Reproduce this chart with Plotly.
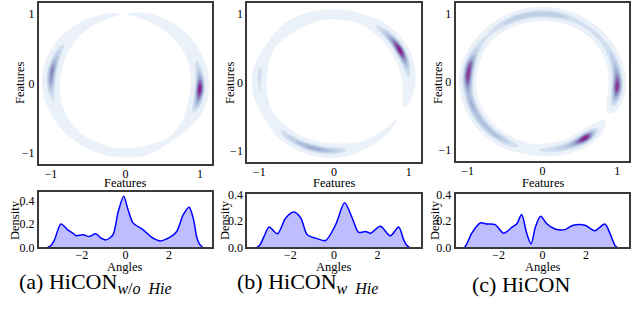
import numpy as np
import plotly.graph_objects as go

# ---- data: angle (rad) -> density of angles ----
a_angles = [-3.57, -3.42, -3.26, -2.96, -2.65, -2.42, -2.26, -1.95, -1.65, -1.37, -1.11, -0.88, -0.57,
            -0.34, -0.08, 0.12, 0.35, 0.82, 1.20, 1.59, 2.05, 2.36, 2.66, 2.93, 3.13, 3.28, 3.40, 3.54]
a_density = [0.0, 0.015, 0.064, 0.200, 0.150, 0.122, 0.100, 0.108, 0.093, 0.116, 0.078, 0.064, 0.108,
             0.300, 0.440, 0.325, 0.210, 0.150, 0.087, 0.055, 0.087, 0.136, 0.280, 0.345, 0.240, 0.087, 0.030, 0.0]

b_angles = [-3.53, -3.40, -3.20, -2.97, -2.59, -2.21, -1.83, -1.52, -1.22, -0.84, -0.38, 0.08, 0.49,
            0.84, 1.14, 1.45, 1.68, 2.13, 2.59, 2.97, 3.20, 3.32, 3.46]
b_density = [0.0, 0.015, 0.083, 0.155, 0.103, 0.224, 0.270, 0.224, 0.096, 0.070, 0.052, 0.173, 0.340,
             0.224, 0.114, 0.121, 0.108, 0.160, 0.088, 0.155, 0.057, 0.020, 0.0]

c_angles = [-3.56, -3.45, -3.23, -2.85, -2.54, -2.16, -1.78, -1.40, -1.17, -0.95, -0.72, -0.52, -0.31,
            -0.08, 0.20, 0.58, 1.03, 1.41, 1.95, 2.40, 2.86, 3.09, 3.24, 3.32, 3.42]
c_density = [0.0, 0.030, 0.108, 0.186, 0.178, 0.173, 0.108, 0.152, 0.180, 0.250, 0.108, 0.026, 0.160,
             0.237, 0.180, 0.140, 0.135, 0.168, 0.168, 0.127, 0.178, 0.108, 0.046, 0.015, 0.0]

cap_labels = ["(a) HiCON", "(b) HiCON", "(c) HiCON"]
cap_subs = ["<i>w</i>/<i>o</i>&nbsp;&nbsp;<i>Hie</i>", "<i>w</i>&nbsp;&nbsp;<i>Hie</i>", ""]

top_ticks = [-1, 0, 1]
bottom_xticks = [-2, 0, 2]
bottom_yticks = [0.0, 0.2, 0.4]

# ---- rendering helpers ----
FONT = "Liberation Serif"
W, H = 641, 321
THRESH = 0.059
POW = 3.7
NLEV = 10
BUPU = ["#e2ebf4", "#cfdcee", "#bccbe4", "#a8b9da", "#97a3cd", "#8c82bd", "#8b5faa",
        "#87419c", "#83258c", "#7d0f78"]


def ring_surface(angles, dens, width):
    ang = np.asarray(angles, float)
    d = np.asarray(dens, float)
    th = np.linspace(-np.pi, np.pi, 721)
    g = (np.interp(th, ang, d, left=0, right=0)
         + np.interp(th + 2 * np.pi, ang, d, left=0, right=0)
         + np.interp(th - 2 * np.pi, ang, d, left=0, right=0))
    step = th[1] - th[0]
    k = np.arange(-40, 41) * step
    ker = np.exp(-k ** 2 / (2 * 0.05 ** 2))
    ker /= ker.sum()
    gp = np.concatenate([g[-41:-1], g, g[1:41]])
    g = np.convolve(gp, ker, mode="same")[40:-40]
    grid = np.linspace(-1.17, 1.17, 281)
    X, Y = np.meshgrid(grid, grid)
    R = np.hypot(X, Y)
    T = np.arctan2(Y, X)
    gz = np.interp(T, th, g)
    z = gz * np.exp(-(R - 1.0) ** 2 / (2 * width ** 2))
    gmax = g.max()
    zn = (z / gmax) ** POW
    thr = (THRESH / gmax) ** POW
    return grid, zn, thr


def colorscale():
    cs = [[0.0, "rgba(255,255,255,0)"], [0.5 / (NLEV + 1), "rgba(255,255,255,0)"]]
    for i, c in enumerate(BUPU):
        cs.append([(i + 1) / NLEV if i + 1 < NLEV else 1.0, c])
    return cs


fig = go.Figure()

top_dom_x = [[39 / W, 212 / W], [247.3 / W, 420.7 / W], [455.7 / W, 629.3 / W]]
top_dom_y = [[1 - 164 / H, 1 - 3 / H], [1 - 161.7 / H, 1 - 3.3 / H], [1 - 161 / H, 1 - 3 / H]]
bot_dom_y = [[1 - 247.3 / H, 1 - 192.3 / H], [1 - 247.3 / H, 1 - 194.3 / H], [1 - 247.3 / H, 1 - 194.3 / H]]
bot_yrange = [[0, 0.473], [0, 0.405], [0, 0.405]]
widths = [0.064, 0.064, 0.072]

series = [(a_angles, a_density), (b_angles, b_density), (c_angles, c_density)]

for i, (ang, den) in enumerate(series):
    grid, zn, thr = ring_surface(ang, den, widths[i])
    size = (1.0 - thr) / NLEV
    xa = "x" if i == 0 else f"x{i + 1}"
    ya = "y" if i == 0 else f"y{i + 1}"
    fig.add_trace(go.Contour(
        x=grid, y=grid, z=zn, xaxis=xa, yaxis=ya,
        contours=dict(coloring="fill", start=thr, end=1.0, size=size, showlines=False),
        line=dict(width=0), colorscale=colorscale(), showscale=False, hoverinfo="skip"))
    fig.add_trace(go.Scatter(
        x=ang, y=den, xaxis=f"x{i + 4}", yaxis=f"y{i + 4}", mode="lines",
        line=dict(color="#0000ff", width=1.5, shape="spline", smoothing=0.8),
        fill="tozeroy", fillcolor="rgba(0,0,255,0.26)", showlegend=False, hoverinfo="skip"))

axis_common = dict(showgrid=False, zeroline=False, showline=True, mirror=True, automargin=False,
                   linecolor="#3a3a3a", linewidth=2, ticks="",
                   tickfont=dict(family=FONT, size=12, color="black"))
title_font = dict(family=FONT, size=12.5, color="black")

layout = dict(width=W, height=H, margin=dict(l=0, r=0, t=0, b=0, autoexpand=False),
              paper_bgcolor="white", plot_bgcolor="white", showlegend=False)

for i in range(3):
    xk = "xaxis" if i == 0 else f"xaxis{i + 1}"
    yk = "yaxis" if i == 0 else f"yaxis{i + 1}"
    ya = "y" if i == 0 else f"y{i + 1}"
    xa = "x" if i == 0 else f"x{i + 1}"
    layout[xk] = dict(axis_common, domain=top_dom_x[i], anchor=ya, range=[-1.16, 1.16],
                      tickvals=top_ticks, ticklabelstandoff=-2)
    layout[yk] = dict(axis_common, domain=top_dom_y[i], anchor=xa, range=[-1.16, 1.16],
                      tickvals=top_ticks)
    layout[f"xaxis{i + 4}"] = dict(axis_common, domain=top_dom_x[i], anchor=f"y{i + 4}",
                                   range=[-3.97, 3.98], tickvals=bottom_xticks, ticklabelstandoff=-5)
    layout[f"yaxis{i + 4}"] = dict(axis_common, domain=bot_dom_y[i], anchor=f"x{i + 4}",
                                   range=bot_yrange[i], tickvals=bottom_yticks, tickformat=".1f")

fig.update_layout(**layout)

# axis titles
top_cx = [125, 334, 542.7]
ytitle_x = [20, 230, 438]
dens_x = [15, 225, 435]
for i in range(3):
    fig.add_annotation(text="Features", x=top_cx[i] / W, y=1 - 183 / H, xref="paper", yref="paper",
                       xanchor="center", yanchor="middle", showarrow=False, font=title_font)
    fig.add_annotation(text="Features", x=ytitle_x[i] / W, y=1 - 83 / H, xref="paper", yref="paper",
                       xanchor="center", yanchor="middle", showarrow=False, textangle=-90,
                       font=title_font)
    fig.add_annotation(text="Angles", x=top_cx[i] / W, y=1 - 267 / H, xref="paper", yref="paper",
                       xanchor="center", yanchor="middle", showarrow=False, font=title_font)
    fig.add_annotation(text="Density", x=dens_x[i] / W, y=1 - 220 / H, xref="paper", yref="paper",
                       xanchor="center", yanchor="middle", showarrow=False, textangle=-90,
                       font=title_font)

cap_x = [17 / W, 235 / W, 470 / W]
for i in range(3):
    txt = cap_labels[i]
    if cap_subs[i]:
        txt += "<sub><span style='font-size:16px'>" + cap_subs[i] + "</span></sub>"
    fig.add_annotation(text=txt, x=cap_x[i], y=1 - 299 / H, xref="paper", yref="paper",
                       xanchor="left", yanchor="bottom", showarrow=False,
                       font=dict(family=FONT, size=22, color="black"))

fig.write_html("out.html", config={"displayModeBar": False},
               post_script="document.body.style.margin='0';")
